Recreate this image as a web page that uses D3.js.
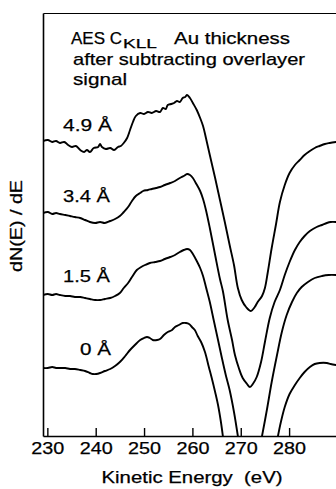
<!DOCTYPE html>
<html lang="en">
<head>
<meta charset="UTF-8">
<title>AES C KLL spectra vs Au thickness</title>
<style>
  body { margin: 0; background: #fff; }
  svg { display: block; font-family: "Liberation Sans", Arial, Helvetica, sans-serif; }
  .axis path, .axis line { stroke: #000; }
  .axis text { font-size: 17px; fill: #000; stroke: #000; stroke-width: 0.25; font-family: "Liberation Sans", Arial, sans-serif; }
  .spectrum { fill: none; stroke: #000; stroke-width: 1.9; stroke-linejoin: round; stroke-linecap: round; }
  .lbl { font-size: 16.5px; fill: #000; stroke: #000; stroke-width: 0.25; white-space: pre; }
</style>
</head>
<body>
<svg id="chart" width="336" height="489"></svg>
<script src="https://d3js.org/d3.v7.min.js"></script>
<script>
// energy axis ticks (eV)
const energyTicks = [230, 240, 250, 260, 270, 280];
const thicknessLabels = ["4.9 Å", "3.4 Å", "1.5 Å", "0 Å"];

// spectra, [kinetic energy (eV), dN/dE (arb. units, offset)], null = off scale
const spec49 = [
  [229.1,29.5],[230.1,29.6],[231.0,29.4],[231.8,29.5],[232.6,29.3],[233.5,29.4],[234.3,29.1],[235.1,28.9],
  [235.9,29.0],[236.8,28.6],[237.6,28.4],[238.2,28.6],[238.8,28.4],[239.6,28.8],[240.5,28.9],[240.9,29.2],
  [241.3,28.9],[242.1,28.7],[243.0,28.8],[243.8,28.6],[244.6,28.9],[245.2,29.0],[245.8,29.3],[246.5,29.8],
  [247.1,30.6],[247.7,31.4],[248.3,32.0],[249.2,32.3],[250.0,32.2],[250.8,32.4],[251.6,32.3],[252.5,32.5],
  [253.3,32.4],[253.9,32.8],[254.5,32.7],[254.9,33.1],[255.6,33.2],[256.2,33.3],[256.8,33.5],[257.4,33.4],
  [258.0,33.8],[258.5,33.9],[258.9,34.1],[259.5,33.8],[260.1,33.3],[260.9,32.6],[261.6,31.8],[262.2,31.0],
  [262.8,29.8],[263.6,28.1],[264.7,25.8],[265.7,23.6],[266.7,21.4],[267.7,19.1],[268.6,17.1],[269.4,14.8],
  [270.2,13.6],[271.1,12.9],[272.1,12.5],[272.9,12.9],[273.5,13.4],[274.4,14.0],[275.0,14.8],[275.6,16.4],
  [276.4,18.8],[277.3,21.2],[278.1,23.4],[279.1,25.1],[280.1,26.3],[281.2,27.1],[282.2,27.6],[283.2,28.1],
  [284.3,28.5],[285.3,28.8],[286.3,29.0],[287.4,29.2],[288.4,29.3],[289.7,29.4]
];
const spec34 = [
  [229.1,22.3],[230.1,22.4],[231.0,22.2],[231.8,22.3],[232.6,22.2],[233.7,22.1],[234.7,22.0],[235.7,21.9],
  [236.8,21.8],[237.8,21.6],[238.8,21.4],[239.9,21.3],[240.9,21.4],[241.9,21.3],[243.0,21.5],[244.0,21.7],
  [245.0,22.0],[245.8,22.4],[246.7,22.9],[247.5,23.5],[248.3,24.0],[249.2,24.3],[249.8,24.5],[250.8,24.6],
  [251.6,24.7],[252.5,24.8],[253.3,24.9],[254.3,25.1],[255.4,25.3],[256.4,25.5],[257.4,25.8],[258.2,26.0],
  [258.9,26.2],[259.5,26.1],[260.1,25.8],[260.7,25.3],[261.6,24.5],[262.2,23.7],[262.8,22.6],[263.6,20.8],
  [264.7,18.1],[265.7,15.7],[266.3,14.5],[267.3,11.6],[268.2,9.6],[268.8,8.1],[269.6,6.8],[270.4,5.8],
  [271.3,5.2],[271.9,4.9],[272.5,5.2],[273.3,5.9],[274.2,7.4],[275.0,9.4],[276.0,11.8],[277.0,13.4],
  [278.1,14.6],[279.1,16.1],[280.1,17.4],[281.2,18.6],[282.2,19.4],[283.2,20.0],[284.3,20.5],[285.7,20.9],
  [286.8,21.1],[287.8,21.3],[288.6,21.4],[289.7,21.4]
];
const spec15 = [
  [229.1,14.1],[230.1,14.2],[231.0,14.1],[231.8,14.2],[232.6,14.1],[233.7,14.0],[234.7,14.0],[235.7,13.9],
  [236.8,13.9],[237.8,13.8],[238.8,13.7],[239.9,13.6],[240.9,13.6],[241.9,13.7],[243.0,13.8],[244.0,14.0],
  [245.0,14.3],[245.8,14.8],[246.7,15.3],[247.5,15.9],[248.5,16.6],[249.4,16.9],[250.2,17.1],[251.2,17.3],
  [252.3,17.4],[253.3,17.5],[254.3,17.7],[255.4,17.9],[256.4,18.1],[257.4,18.4],[258.2,18.6],[258.9,18.7],
  [259.5,18.6],[260.1,18.2],[260.9,17.5],[261.6,16.8],[262.2,16.0],[262.8,14.9],[263.6,13.4],[264.4,11.6],
  [265.3,9.6],[266.1,7.8],[266.9,6.1],[267.7,4.6],[268.6,2.4],[269.4,0.0],
  null,
  [274.4,0.0],[275.4,2.6],[276.4,5.4],[277.5,8.1],[278.5,10.4],[279.5,12.1],[280.6,13.4],[281.6,14.3],
  [282.6,14.9],[283.9,15.4],[285.3,15.8],[286.8,16.0],[288.2,16.1],[289.7,16.1]
];
const spec0 = [
  [229.1,6.8],[230.1,6.8],[231.0,6.9],[231.8,6.8],[232.6,6.8],[233.7,6.8],[234.7,6.7],[235.7,6.7],
  [236.8,6.6],[237.8,6.5],[238.8,6.3],[239.4,6.2],[240.1,6.2],[240.9,6.3],[241.9,6.5],[243.0,6.7],
  [244.0,7.0],[245.0,7.4],[246.1,8.0],[247.1,8.6],[248.1,9.1],[249.2,9.6],[250.0,9.8],[250.6,9.9],
  [251.2,9.8],[251.8,9.6],[252.7,9.6],[253.3,9.7],[254.1,10.1],[254.9,10.4],[255.8,10.6],[256.4,10.9],
  [257.2,11.1],[258.0,11.3],[258.7,11.3],[259.3,11.2],[259.9,10.9],[260.5,10.6],[261.1,10.0],[261.8,9.4],
  [262.6,8.4],[263.4,6.9],[264.0,5.8],[264.7,4.4],[265.3,3.1],[265.9,1.4],[266.3,0.0],
  null,
  [277.7,0.0],[278.3,1.4],[279.1,2.9],[280.1,4.2],[281.2,5.1],[282.2,5.8],[283.2,6.4],[284.3,6.9],
  [285.3,7.2],[286.3,7.3],[287.8,7.3],[288.6,7.2],[289.7,7.1]
];

const svg = d3.select("#chart");
const x = d3.scaleLinear().domain([229.1, 289.7]).range([43, 336]);
const y = d3.scaleLinear().domain([0, 42.3]).range([436, 13]);

// frame: top and left lines, bottom axis with inward ticks
svg.append("g").attr("class", "axis")
  .attr("transform", "translate(0,13)")
  .call(d3.axisTop(x).tickValues([]).tickSizeOuter(0))
  .select(".domain").attr("stroke", "#333").attr("stroke-width", 1);

svg.append("g").attr("class", "axis")
  .attr("transform", "translate(43,0)")
  .call(d3.axisLeft(y).tickValues([]).tickSizeOuter(0))
  .select(".domain").attr("stroke-width", 1.6);

const xAxis = svg.append("g").attr("class", "axis")
  .attr("transform", "translate(0,436)")
  .call(d3.axisBottom(x).tickValues(energyTicks).tickSizeInner(-8).tickSizeOuter(0).tickFormat(d3.format("d")));
xAxis.select(".domain").attr("stroke-width", 1.6);
xAxis.selectAll(".tick line").attr("stroke-width", 1.4);
xAxis.selectAll(".tick text")
  .attr("y", 18).attr("dy", 0)
  .attr("textLength", 33).attr("lengthAdjust", "spacingAndGlyphs");

// spectra
svg.append("clipPath").attr("id", "plotClip")
  .append("rect").attr("x", 43).attr("y", 13).attr("width", 293).attr("height", 423);

const line = d3.line()
  .defined(d => d !== null)
  .x(d => x(d[0]))
  .y(d => y(d[1]))
  .curve(d3.curveCatmullRom.alpha(0.5));

svg.append("g").attr("clip-path", "url(#plotClip)")
  .selectAll("path")
  .data([spec49, spec34, spec15, spec0])
  .join("path")
  .attr("class", "spectrum")
  .attr("d", line);

// thickness labels
const labelPos = [[63, 131, 49], [63, 202, 47], [63, 282, 47], [80, 355, 31]];
svg.selectAll(".thick")
  .data(thicknessLabels)
  .join("text")
  .attr("class", "lbl thick")
  .attr("x", (d, i) => labelPos[i][0])
  .attr("y", (d, i) => labelPos[i][1])
  .attr("textLength", (d, i) => labelPos[i][2])
  .attr("lengthAdjust", "spacingAndGlyphs")
  .text(d => d);

// title block
function addText(str, px, py, len, size) {
  const t = svg.append("text").attr("class", "lbl")
    .attr("x", px).attr("y", py)
    .style("font-size", size + "px")
    .text(str);
  if (len) t.attr("textLength", len).attr("lengthAdjust", "spacingAndGlyphs");
  return t;
}
addText("AES C", 71, 44, null, 17);
addText("KLL", 123, 48, 34, 13);
addText("Au thickness", 174, 44, 116, 17);
addText("after subtracting overlayer", 73, 65, 232, 17);
addText("signal", 73, 85, 54, 17);

// axis titles
svg.append("text").attr("class", "lbl")
  .attr("x", 192).attr("y", 483)
  .attr("text-anchor", "middle")
  .attr("textLength", 181).attr("lengthAdjust", "spacingAndGlyphs")
  .text("Kinetic Energy  (eV)");

svg.append("text").attr("class", "lbl")
  .attr("transform", "translate(22,226) rotate(-90)")
  .attr("text-anchor", "middle")
  .attr("textLength", 92).attr("lengthAdjust", "spacingAndGlyphs")
  .text("dN(E) / dE");
</script>
</body>
</html>
